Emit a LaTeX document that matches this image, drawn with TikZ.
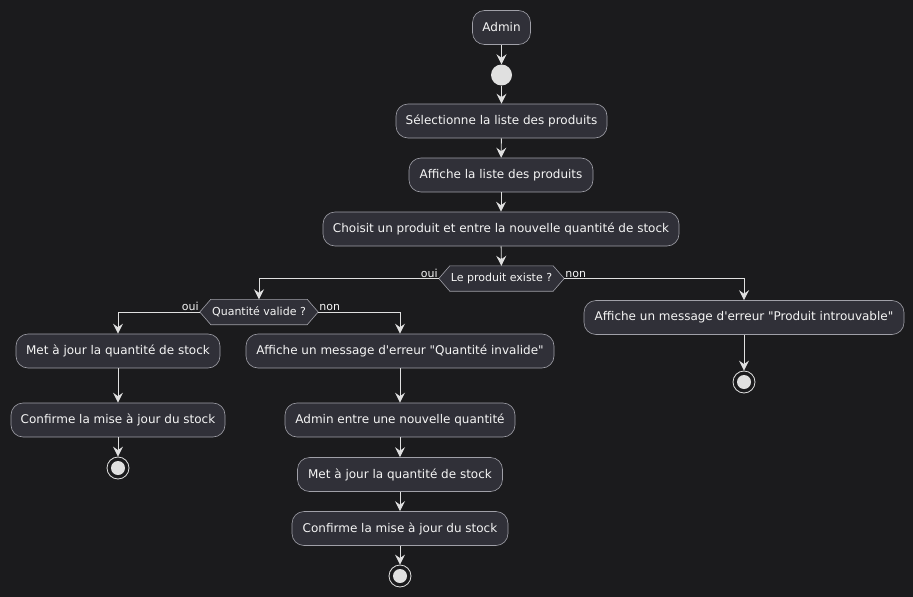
\documentclass[tikz,border=0pt]{standalone}
\usepackage{fontspec}
\setmainfont{DejaVu Sans}[Ligatures=TeXOff]
\usetikzlibrary{arrows.meta,positioning}
\definecolor{canvas}{RGB}{27,27,29}
\definecolor{boxfill}{RGB}{48,48,56}
\definecolor{boxline}{RGB}{160,160,168}
\definecolor{ink}{RGB}{245,245,245}
\definecolor{flow}{RGB}{224,224,224}
\pgfdeclarelayer{back}
\pgfsetlayers{back,main}
\tikzset{
  act/.style={draw=boxline, line width=0.6pt, fill=boxfill, rounded corners=12pt,
    minimum height=34pt, inner sep=0pt, text=ink, font=\fontsize{12}{14}\selectfont},
  cond/.style={minimum height=25pt, inner sep=0pt, text=ink, font=\fontsize{11}{13}\selectfont},
  hexa/.style={draw=boxline, line width=0.6pt, fill=boxfill},
  startdot/.style={circle, fill=flow, minimum size=21pt, inner sep=0pt},
  stopdot/.style={circle, draw=flow, line width=0.8pt, minimum size=22pt, inner sep=0pt,
    path picture={\fill[flow] (path picture bounding box.center) circle (7pt);}},
  flowline/.style={draw=flow, line width=0.9pt, -{Stealth[length=10pt,width=10pt,inset=3.5pt]}},
  branch/.style={text=ink, font=\fontsize{11}{13}\selectfont, inner sep=1pt}
}
\begin{document}
\begin{tikzpicture}[x=1pt,y=-1pt]
\useasboundingbox (0,0) rectangle (913,597);
\begin{pgfonlayer}{back}
  \fill[canvas] (0,0) rectangle (913,597);
\end{pgfonlayer}

% main sequence
\node[act, minimum width=58pt] (admin) at (501.5,27.5) {Admin};
\node[startdot] (start) at (501.5,75) {};
\node[act, minimum width=211pt] (sel) at (501.5,121) {Sélectionne la liste des produits};
\node[act, minimum width=184pt] (aff) at (501,175) {Affiche la liste des produits};
\node[act, minimum width=356pt] (cho) at (501,229) {Choisit un produit et entre la nouvelle quantité de stock};

% first decision
\node[cond, minimum width=125pt] (d1) at (501.5,278.5) {Le produit existe ?};

% branch: product exists
\node[cond, minimum width=118pt] (d2) at (259,312) {Quantité valide ?};
\node[act, minimum width=204pt] (lm1) at (118,351) {Met à jour la quantité de stock};
\node[act, minimum width=214pt] (lc1) at (118,420) {Confirme la mise à jour du stock};
\node[stopdot] (e1) at (118,468) {};

\node[act, minimum width=308pt] (mm) at (400,351) {Affiche un message d'erreur "Quantité invalide"};
\node[act, minimum width=230pt] (ma) at (400,420) {Admin entre une nouvelle quantité};
\node[act, minimum width=205pt] (mj) at (400,474.5) {Met à jour la quantité de stock};
\node[act, minimum width=216pt] (mc) at (400,528.5) {Confirme la mise à jour du stock};
\node[stopdot] (e2) at (400,576) {};

% branch: product missing
\node[act, minimum width=320pt] (rm) at (744,317.5) {Affiche un message d'erreur "Produit introuvable"};
\node[stopdot] (e3) at (744,382) {};

% hexagonal decision outlines
\begin{pgfonlayer}{back}
  \path[hexa] (d1.west) -- ([xshift=11pt]d1.north west) -- ([xshift=-11pt]d1.north east)
    -- (d1.east) -- ([xshift=-11pt]d1.south east) -- ([xshift=11pt]d1.south west) -- cycle;
  \path[hexa] (d2.west) -- ([xshift=11pt]d2.north west) -- ([xshift=-11pt]d2.north east)
    -- (d2.east) -- ([xshift=-11pt]d2.south east) -- ([xshift=11pt]d2.south west) -- cycle;
\end{pgfonlayer}

% connectors
\draw[flowline] (admin) -- (start);
\draw[flowline] (start) -- (sel);
\draw[flowline] (sel) -- (aff);
\draw[flowline] (aff) -- (cho);
\draw[flowline] (cho) -- (d1);

\draw[flowline] (d1.west) -| (d2.north);
\draw[flowline] (d1.east) -| (rm.north);
\node[branch, anchor=south east] (l1) at (d1.west) {oui};
\node[branch, anchor=south west] (l2) at (d1.east) {non};

\draw[flowline] (d2.west) -| (lm1.north);
\draw[flowline] (d2.east) -| (mm.north);
\node[branch, anchor=south east] (l3) at (d2.west) {oui};
\node[branch, anchor=south west] (l4) at (d2.east) {non};

\draw[flowline] (lm1) -- (lc1);
\draw[flowline] (lc1) -- (e1);
\draw[flowline] (mm) -- (ma);
\draw[flowline] (ma) -- (mj);
\draw[flowline] (mj) -- (mc);
\draw[flowline] (mc) -- (e2);
\draw[flowline] (rm) -- (e3);
\end{tikzpicture}
\end{document}
